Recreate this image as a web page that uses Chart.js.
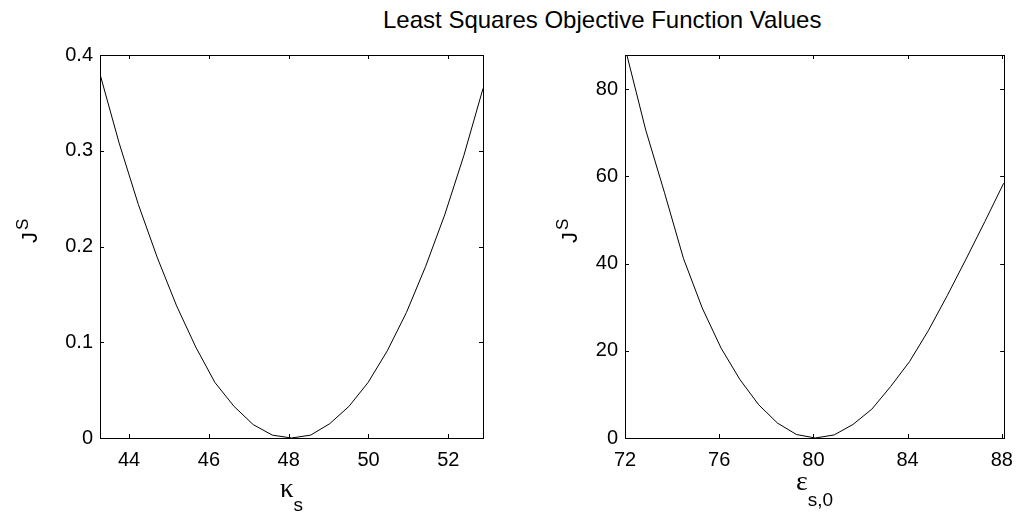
<!DOCTYPE html>
<html>
<head>
<meta charset="utf-8">
<script src="https://cdn.jsdelivr.net/npm/chart.js@4.4.1/dist/chart.umd.min.js"></script>
<style>
    body { margin: 0; background: #fff; }
    #wrap { position: relative; width: 1023px; height: 517px; overflow: hidden; }
    #title { position: absolute; left: 383px; top: 6px; font: 24px "Liberation Sans", Arial, sans-serif; color: #000; white-space: nowrap; }
    canvas { position: absolute; top: 0; }
</style>
</head>
<body>
<div id="wrap">
    <div id="title">Least Squares Objective Function Values</div>
    <canvas id="kappaGraph" width="500" height="517" style="left:0px"></canvas>
    <canvas id="epsGraph" width="513" height="517" style="left:510px"></canvas>
</div>
<script>
// kappa_s sweep
var kappaValues = [43.27, 43.75, 44.23, 44.71, 45.19, 45.67, 46.15, 46.63, 47.11, 47.59, 48.07,
    48.55, 49.03, 49.51, 49.99, 50.47, 50.95, 51.43, 51.91, 52.39, 52.87];
var kappaObjective = [0.380, 0.308, 0.244, 0.188, 0.138, 0.095, 0.058, 0.033, 0.014, 0.003, 0.000,
    0.003, 0.015, 0.033, 0.058, 0.091, 0.131, 0.179, 0.233, 0.295, 0.365];
var kappaTicksX = [44, 46, 48, 50, 52];
var kappaTicksY = [0, 0.1, 0.2, 0.3, 0.4];

// eps_s,0 sweep
var epsValues = [72.08, 72.88, 73.68, 74.48, 75.28, 76.08, 76.88, 77.68, 78.48, 79.28, 80.08,
    80.88, 81.68, 82.48, 83.28, 84.08, 84.88, 85.68, 86.48, 87.28, 88.08];
var epsObjective = [87.8, 70.6, 56.2, 41.2, 29.8, 20.6, 13.4, 7.6, 3.4, 0.8, 0.0,
    0.7, 3.1, 6.6, 11.8, 17.5, 24.6, 32.6, 41.0, 49.6, 58.4];
var epsTicksX = [72, 76, 80, 84, 88];
var epsTicksY = [0, 20, 40, 60, 80];

var tickFont = { family: "'Liberation Sans', Arial, sans-serif", size: 20 };

// box around the axes, inward ticks on every side, and the axis labels with sub/superscripts
var framePlugin = {
    id: "frame",
    afterDraw: function (chart, args, opts) {
        var ctx = chart.ctx;
        var a = chart.chartArea;
        var x = chart.scales.x;
        var y = chart.scales.y;
        ctx.save();
        ctx.strokeStyle = "#000";
        ctx.lineWidth = 1;
        ctx.strokeRect(Math.round(a.left) + 0.5, Math.round(a.top) + 0.5, Math.round(a.right - a.left), Math.round(a.bottom - a.top));
        ctx.beginPath();
        for (var t of x.ticks) {
            var px = Math.round(x.getPixelForValue(t.value)) + 0.5;
            ctx.moveTo(px, a.bottom); ctx.lineTo(px, a.bottom - 4);
            ctx.moveTo(px, a.top); ctx.lineTo(px, a.top + 4);
        }
        for (var t of y.ticks) {
            var py = Math.round(y.getPixelForValue(t.value)) + 0.5;
            ctx.moveTo(a.left, py); ctx.lineTo(a.left + 4, py);
            ctx.moveTo(a.right, py); ctx.lineTo(a.right - 4, py);
        }
        ctx.stroke();

        ctx.fillStyle = "#000";
        ctx.textBaseline = "alphabetic";
        // x label: greek symbol with subscript
        var mainFont = opts.greekSize + "px 'Liberation Serif', serif";
        var subFont = "19px 'Liberation Sans', Arial, sans-serif";
        var cx = (a.left + a.right) / 2;
        ctx.font = mainFont;
        var mainW = ctx.measureText(opts.xLabel[0]).width;
        ctx.font = subFont;
        var subW = ctx.measureText(opts.xLabel[1]).width;
        var x0 = cx - (mainW + subW) / 2;
        ctx.font = mainFont;
        ctx.fillText(opts.xLabel[0], x0, opts.xLabelY);
        ctx.font = subFont;
        ctx.fillText(opts.xLabel[1], x0 + mainW, opts.xLabelY + opts.subShift);

        // y label: J with superscript S, rotated
        ctx.translate(opts.yLabelX, opts.yLabelY);
        ctx.rotate(-Math.PI / 2);
        ctx.font = "22px 'Liberation Sans', Arial, sans-serif";
        var jW = ctx.measureText(opts.yLabel[0]).width;
        ctx.fillText(opts.yLabel[0], 0, 0);
        ctx.font = "17px 'Liberation Sans', Arial, sans-serif";
        ctx.fillText(opts.yLabel[1], jW + 2, -9);
        ctx.restore();
    },
};

function make_points(xs, ys) {
    var pts = [];
    for (var i = 0; i < xs.length; i++) {
        pts.push({ x: xs[i], y: ys[i] });
    }
    return pts;
}

function get_config(xs, ys, xRange, yRange, xTicks, yTicks, yFormat, leftWidth, rightPad, labels) {
    return {
        type: "line",
        data: {
            datasets: [{
                data: make_points(xs, ys),
                borderColor: "#000",
                borderWidth: 1,
                pointRadius: 0,
                tension: 0,
                fill: false,
            }],
        },
        options: {
            responsive: false,
            animation: false,
            devicePixelRatio: 1,
            layout: { padding: { left: 0, top: 55, right: rightPad, bottom: 0 } },
            plugins: {
                legend: { display: false },
                tooltip: { enabled: false },
                frame: labels,
            },
            scales: {
                x: {
                    type: "linear",
                    min: xRange[0],
                    max: xRange[1],
                    grid: { display: false, drawTicks: false },
                    border: { display: false },
                    afterBuildTicks: function (scale) {
                        scale.ticks = xTicks.map(function (v) { return { value: v }; });
                    },
                    afterFit: function (scale) { scale.height = 79; },
                    ticks: { color: "#000", font: tickFont, padding: 10, maxRotation: 0, autoSkip: false },
                },
                y: {
                    type: "linear",
                    min: yRange[0],
                    max: yRange[1],
                    grid: { display: false, drawTicks: false },
                    border: { display: false },
                    afterBuildTicks: function (scale) {
                        scale.ticks = yTicks.map(function (v) { return { value: v }; });
                    },
                    afterFit: function (scale) { scale.width = leftWidth; },
                    ticks: { color: "#000", font: tickFont, padding: 7, callback: yFormat },
                },
            },
        },
        plugins: [framePlugin],
    };
}

var kappaGraph = new Chart("kappaGraph", get_config(kappaValues, kappaObjective, [43.27, 52.87], [0, 0.4],
    kappaTicksX, kappaTicksY, function (v) { return v === 0 ? "0" : v.toFixed(1); }, 100, 17,
    { xLabel: ["\u03BA", "s"], greekSize: 27, xLabelY: 497, subShift: 14, yLabel: ["J", "S"], yLabelX: 37, yLabelY: 243 }));

var epsGraph = new Chart("epsGraph", get_config(epsValues, epsObjective, [72, 88.1], [0, 87.8],
    epsTicksX, epsTicksY, function (v) { return String(v); }, 115, 15,
    { xLabel: ["\u03B5", "s,0"], greekSize: 28, xLabelY: 490, subShift: 16, yLabel: ["J", "S"], yLabelX: 577 - 510, yLabelY: 243 }));
</script>
</body>
</html>
